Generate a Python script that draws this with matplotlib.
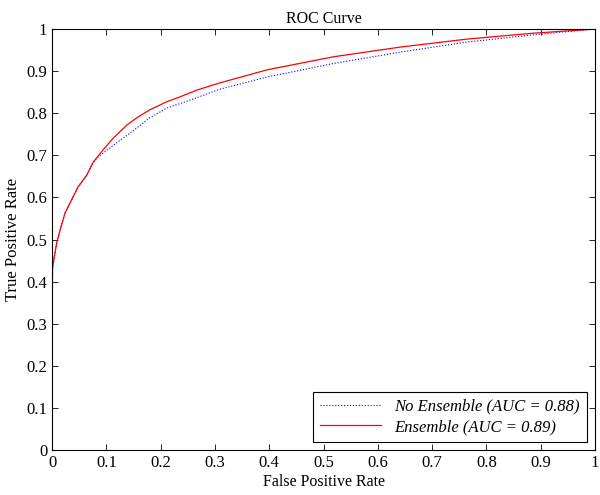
import matplotlib
matplotlib.use('Agg')
import matplotlib.pyplot as plt

# ROC points
fpr_no_ens = [0.0, 0.0, 0.001, 0.004, 0.009, 0.015, 0.024, 0.036, 0.048, 0.064, 0.076, 0.083, 0.113, 0.144,
              0.18, 0.211, 0.254, 0.309, 0.396, 0.518, 0.641, 0.764, 0.886, 1.0]
tpr_no_ens = [0.0, 0.333, 0.432, 0.458, 0.494, 0.523, 0.563, 0.594, 0.625, 0.653, 0.684, 0.694, 0.724, 0.753,
              0.789, 0.812, 0.831, 0.857, 0.886, 0.918, 0.945, 0.969, 0.986, 1.0]

fpr_ens = [0.0, 0.0, 0.001, 0.004, 0.009, 0.015, 0.024, 0.036, 0.048, 0.064, 0.076, 0.094, 0.113, 0.138,
           0.156, 0.18, 0.211, 0.236, 0.267, 0.309, 0.396, 0.518, 0.641, 0.764, 0.886, 1.0]
tpr_ens = [0.0, 0.333, 0.432, 0.458, 0.494, 0.523, 0.563, 0.594, 0.625, 0.653, 0.684, 0.713, 0.741, 0.772,
           0.789, 0.808, 0.827, 0.839, 0.855, 0.872, 0.903, 0.934, 0.957, 0.976, 0.990, 1.0]

labels = ['No Ensemble (AUC = 0.88)', 'Ensemble (AUC = 0.89)']

plt.rcParams['font.family'] = ['Liberation Serif', 'DejaVu Serif']

fig = plt.figure(figsize=(6, 4.95), dpi=100)
ax = fig.add_axes([0.0867, 0.0909, 0.905, 0.8505])

ax.plot(fpr_no_ens, tpr_no_ens, color='blue', linestyle=':', linewidth=0.8, label=labels[0])
ax.plot(fpr_ens, tpr_ens, color='red', linestyle='-', linewidth=0.9, label=labels[1])

ax.set_xlim(0, 1)
ax.set_ylim(0, 1)
ticks = [i / 10 for i in range(11)]
tick_labels = ['0'] + ['%.1f' % t for t in ticks[1:-1]] + ['1']
ax.set_xticks(ticks)
ax.set_xticklabels(tick_labels)
ax.set_yticks(ticks)
ax.set_yticklabels(tick_labels)
ax.tick_params(direction='in', length=4, width=0.6, labelsize=12, top=True, right=True)
for s in ax.spines.values():
    s.set_linewidth(0.8)

ax.set_title('ROC Curve', fontsize=11.5, pad=4)
ax.set_xlabel('False Positive Rate', fontsize=11.5, labelpad=2)
ax.set_ylabel('True Positive Rate', fontsize=12, labelpad=4)

leg = ax.legend(loc='lower right', prop={'style': 'italic', 'size': 12}, fancybox=False,
                framealpha=1, edgecolor='black', borderaxespad=0.5, handlelength=3.7,
                borderpad=0.4, labelspacing=0.25)
leg.get_frame().set_linewidth(0.8)

fig.savefig('out.png', dpi=100)
